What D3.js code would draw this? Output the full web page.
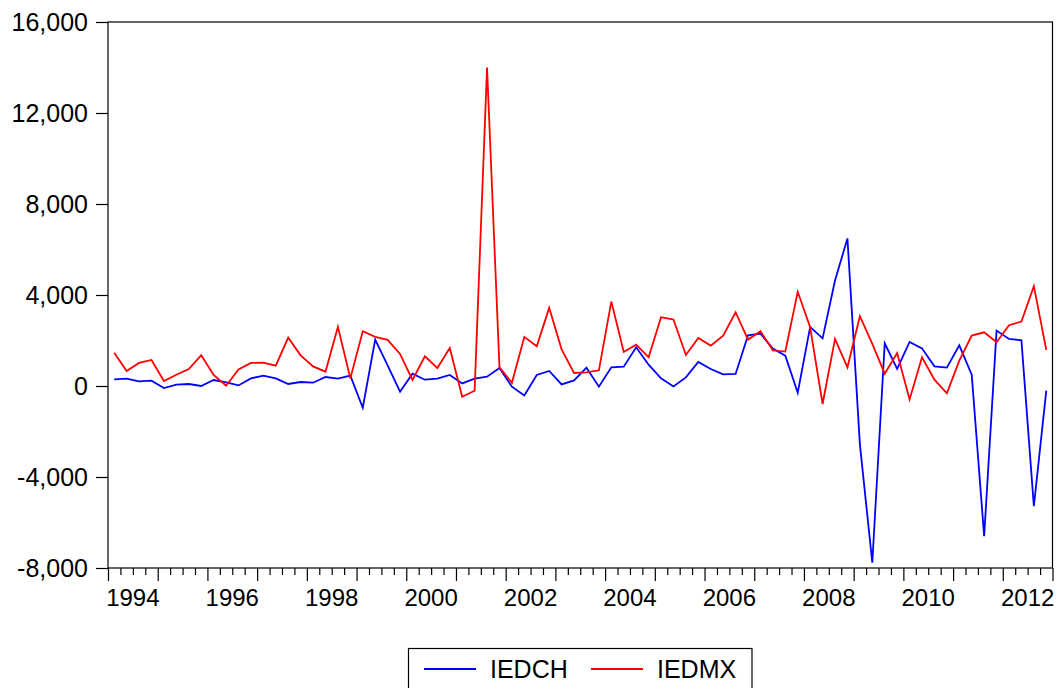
<!DOCTYPE html>
<html>
<head>
<meta charset="utf-8">
<script src="https://cdn.jsdelivr.net/npm/d3@7"></script>
<style>
  html, body { margin: 0; padding: 0; background: #ffffff; }
  svg { display: block; }
  text { font-family: "Liberation Sans", Arial, sans-serif; fill: #000; }
</style>
</head>
<body>
<svg id="chart" width="1060" height="688"></svg>
<script>
// ---- data (quarterly, 1994Q1 .. 2012Q4) ----
const startYear = 1994;
const endYear = 2013;
const seriesNames = ["IEDCH", "IEDMX"];
const seriesColors = ["#0000ff", "#ff0000"];

const IEDCH = [
  291, 321, 203, 233, -88, 57, 88, 0, 264, 159, 26, 335,
  454, 335, 88, 176, 145, 396, 321, 454, -955, 2039, 907, -251,
  542, 277, 321, 484, 115, 321, 410, 792, -31, -412, 484, 660,
  72, 247, 806, -31, 821, 850, 1700, 938, 335, -18, 379, 1057,
  748, 511, 528, 2228, 2303, 1643, 1334, -295, 2598, 2096, 4637, 6487,
  -2554, -7768, 1876, 748, 1938, 1656, 863, 806, 1788, 498, -6606, 2435,
  2070, 2008, -5285, -207
];
const IEDMX = [
  1466, 660, 1013, 1145, 220, 497, 748, 1348, 484, 13, 731, 1013,
  1026, 894, 2127, 1348, 863, 630, 2598, 335, 2405, 2158, 2026, 1409,
  264, 1304, 792, 1673, -471, -207, 14000, 821, 145, 2158, 1744, 3435,
  1612, 572, 601, 689, 3712, 1497, 1819, 1261, 3023, 2920, 1365, 2113,
  1775, 2215, 3243, 2039, 2405, 1570, 1511, 4140, 2582, -793, 2070, 821,
  3067, 1850, 542, 1453, -589, 1261, 277, -324, 1115, 2215, 2362, 1922,
  2670, 2832, 4388, 1585
];
const yTicks = [-8000, -4000, 0, 4000, 8000, 12000, 16000];
const yearLabels = [1994, 1996, 1998, 2000, 2002, 2004, 2006, 2008, 2010, 2012];

// ---- layout ----
const plotLeft = 108, plotRight = 1052.5, plotTop = 22, plotBottom = 568;
const svg = d3.select("#chart");

const x = d3.scaleLinear().domain([startYear, endYear]).range([plotLeft, plotRight]);
const y = d3.scaleLinear().domain([-8000, 16000]).range([plotBottom, plotTop]);

// period positions: middle of each quarter
const tOf = i => startYear + (i + 0.5) / 4;

// frame
svg.append("rect")
  .attr("x", plotLeft).attr("y", plotTop)
  .attr("width", plotRight - plotLeft).attr("height", plotBottom - plotTop)
  .attr("fill", "none").attr("stroke", "#000").attr("stroke-width", 1.2);

// y axis
const fmt = d3.format(",");
const yAxis = d3.axisLeft(y).tickValues(yTicks)
  .tickFormat(d => fmt(d).replace("\u2212", "-"))
  .tickSize(12).tickPadding(8);
const gy = svg.append("g").attr("transform", `translate(${plotLeft},0)`).call(yAxis);
gy.select(".domain").remove();
gy.selectAll(".tick line").attr("stroke", "#000").attr("stroke-width", 1.2);
gy.selectAll(".tick text")
  .style("font-family", "'Liberation Sans', Arial, sans-serif")
  .style("font-size", "25px").attr("fill", "#000").attr("dy", "0.33em");

// x axis: minor quarterly ticks
const quarterTicks = d3.range(startYear * 4, endYear * 4 + 1).map(q => q / 4);
const xMinor = d3.axisBottom(x).tickValues(quarterTicks.filter(v => v % 1 !== 0)).tickSize(7).tickFormat("");
const gxm = svg.append("g").attr("transform", `translate(0,${plotBottom})`).call(xMinor);
gxm.select(".domain").remove();
gxm.selectAll(".tick line").attr("stroke", "#000").attr("stroke-width", 1.2);

// x axis: major yearly ticks
const years = d3.range(startYear, endYear + 1);
const xMajor = d3.axisBottom(x).tickValues(years).tickSize(13).tickFormat("");
const gxM = svg.append("g").attr("transform", `translate(0,${plotBottom})`).call(xMajor);
gxM.select(".domain").remove();
gxM.selectAll(".tick line").attr("stroke", "#000").attr("stroke-width", 1.2);

// year labels, centred on the year
svg.append("g").selectAll("text").data(yearLabels).join("text")
  .attr("x", d => x(d + 0.5))
  .attr("y", 606)
  .attr("text-anchor", "middle")
  .style("font-size", "24px")
  .text(d => d);

// lines
const line = d3.line().x((d, i) => x(tOf(i))).y(d => y(d));
[IEDCH, IEDMX].forEach((s, k) => {
  svg.append("path")
    .datum(s)
    .attr("d", line)
    .attr("fill", "none")
    .attr("stroke", seriesColors[k])
    .attr("stroke-width", 1.8)
    .attr("stroke-linejoin", "miter");
});

// legend
const lg = svg.append("g");
lg.append("rect").attr("x", 408.5).attr("y", 648.5).attr("width", 343.5).attr("height", 46)
  .attr("fill", "#fff").attr("stroke", "#000").attr("stroke-width", 1.2);
const legendX = [424, 591];
seriesNames.forEach((name, k) => {
  lg.append("line")
    .attr("x1", legendX[k]).attr("x2", legendX[k] + 52)
    .attr("y1", 669).attr("y2", 669)
    .attr("stroke", seriesColors[k]).attr("stroke-width", 1.8);
  lg.append("text")
    .attr("x", legendX[k] + 66).attr("y", 677.5)
    .style("font-size", "25px")
    .text(name);
});
</script>
</body>
</html>
